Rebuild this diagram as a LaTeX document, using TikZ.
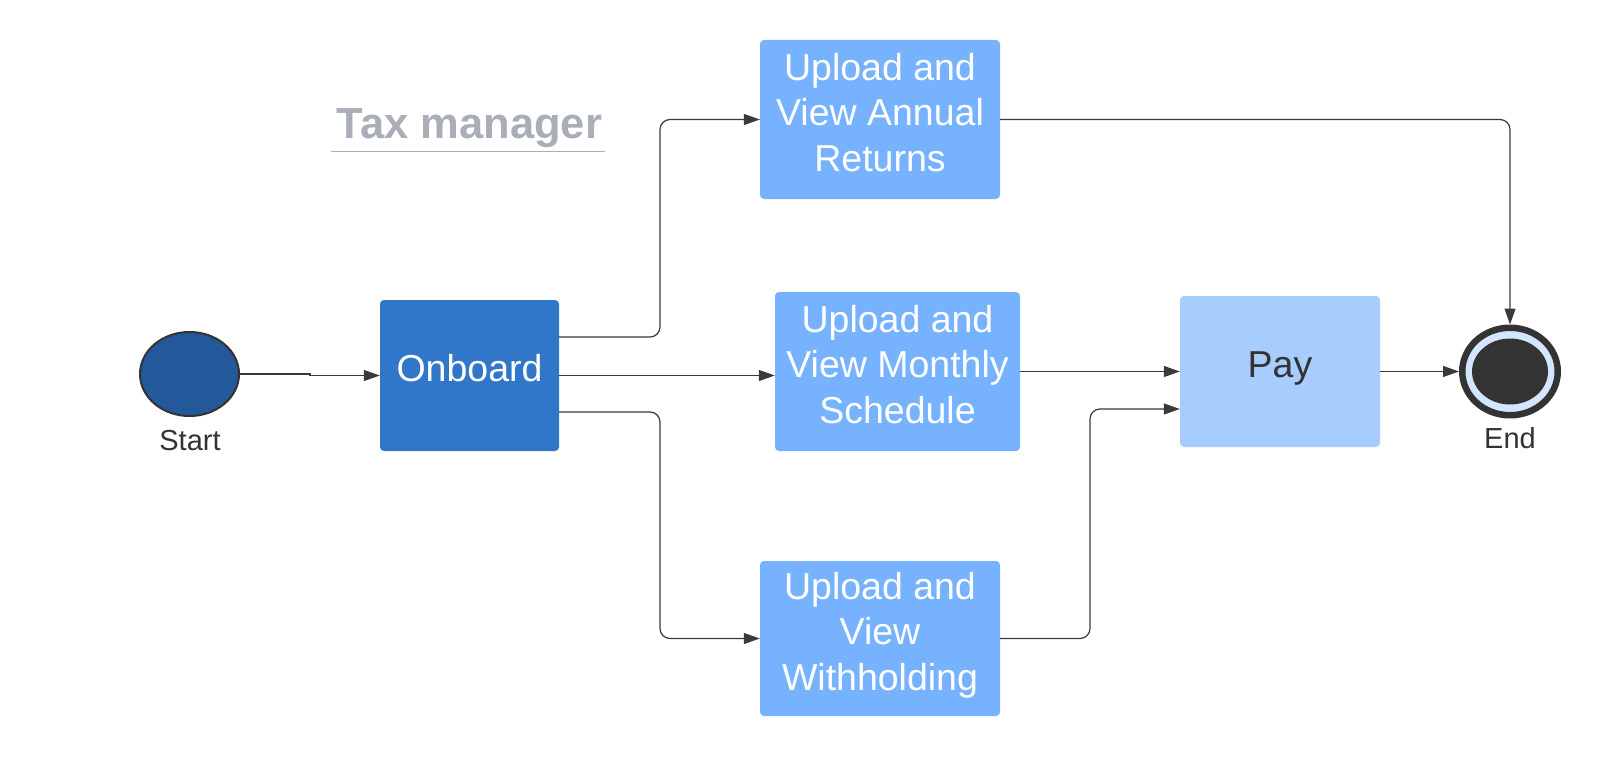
\documentclass[tikz,border=0pt]{standalone}
\usepackage{fontspec}
\setmainfont{Liberation Sans}
\usetikzlibrary{arrows.meta,shapes.geometric,calc}
\definecolor{darkline}{HTML}{3A3A3A}
\definecolor{onboardblue}{HTML}{3077C9}
\definecolor{uploadblue}{HTML}{76B2FE}
\definecolor{payblue}{HTML}{A6CDFD}
\definecolor{startblue}{HTML}{23589A}
\definecolor{ringblue}{HTML}{D4E6FF}
\definecolor{inkdark}{HTML}{333333}
\definecolor{titlegray}{HTML}{A9AEB8}
\newcommand{\lowstrut}{\rule[-14.5pt]{0pt}{14.5pt}}
\begin{document}
\begin{tikzpicture}[x=1pt,y=-1pt,
  boxbase/.style={rectangle, rounded corners=4pt, inner sep=0pt, align=center,
    font=\fontsize{37.5}{45.5}\selectfont},
  onboardbox/.style={boxbase, fill=onboardblue, text=white},
  uploadbox/.style={boxbase, fill=uploadblue, text=white},
  paybox/.style={boxbase, fill=payblue, text=inkdark},
  flow/.style={draw=darkline, line width=1.2pt, rounded corners=10pt,
    -{Triangle[length=16pt,width=11pt]}},
  lbl/.style={font=\fontsize{29}{34}\selectfont, text=inkdark, inner sep=0pt}
]
\useasboundingbox[fill=white] (0,0) rectangle (1600,757);

% title
\node[anchor=base, inner sep=0pt, text=titlegray,
  font=\bfseries\fontsize{43.5}{50}\selectfont] (title) at (469.5,139) {Tax manager};
\draw[titlegray, line width=1.5pt] (331,151.5) -- (605,151.5);

% start
\node[ellipse, draw=inkdark, line width=2pt, fill=startblue,
  minimum width=99pt, minimum height=84pt] (start) at (189.5,374) {};
\node[lbl] (startlbl) at (190,441) {Start};

% boxes
\node[onboardbox, minimum width=179pt, minimum height=151pt] (onboard) at (469.5,375.5) {Onboard\lowstrut};
\node[uploadbox, minimum width=240pt, minimum height=159pt] (annual) at (880,119.5) {Upload and\\View Annual\\Returns\lowstrut};
\node[uploadbox, minimum width=245pt, minimum height=159pt] (monthly) at (897.5,371.5) {Upload and\\View Monthly\\Schedule\lowstrut};
\node[uploadbox, minimum width=240pt, minimum height=155pt] (withhold) at (880,638.5) {Upload and\\View\\Withholding\lowstrut};
\node[paybox, minimum width=200pt, minimum height=151pt] (pay) at (1280,371.5) {Pay\lowstrut};

% end
\node[ellipse, draw=inkdark, line width=6.5pt, fill=ringblue,
  minimum width=95.5pt, minimum height=87.5pt] (end) at (1510,371.5) {};
\node[ellipse, fill=inkdark, inner sep=0pt,
  minimum width=76pt, minimum height=66pt] (endcore) at (end.center) {};
\node[lbl] (endlbl) at (1510,438.5) {End};

% connectors
\coordinate (jog) at (310,374);
\coordinate (busl) at (660,0);
\coordinate (busr) at (1090,0);
\coordinate (payin) at ([yshift=-37.5pt]pay.west);
\draw[flow, sharp corners] (start.east) -- (jog) |- (onboard.west);
\draw[flow] ([yshift=38.5pt]onboard.east) -| (busl |- annual.west) -- (annual.west);
\draw[flow] (onboard.east) -- (onboard.east -| monthly.west);
\draw[flow] ([yshift=-36.5pt]onboard.east) -| (busl |- withhold.west) -- (withhold.west);
\draw[flow] (annual.east) -| (end.north);
\draw[flow] (monthly.east) -- (pay.west);
\draw[flow] (withhold.east) -| (busr |- payin) -- (payin);
\draw[flow] (pay.east) -- (end.west);
\end{tikzpicture}
\end{document}
